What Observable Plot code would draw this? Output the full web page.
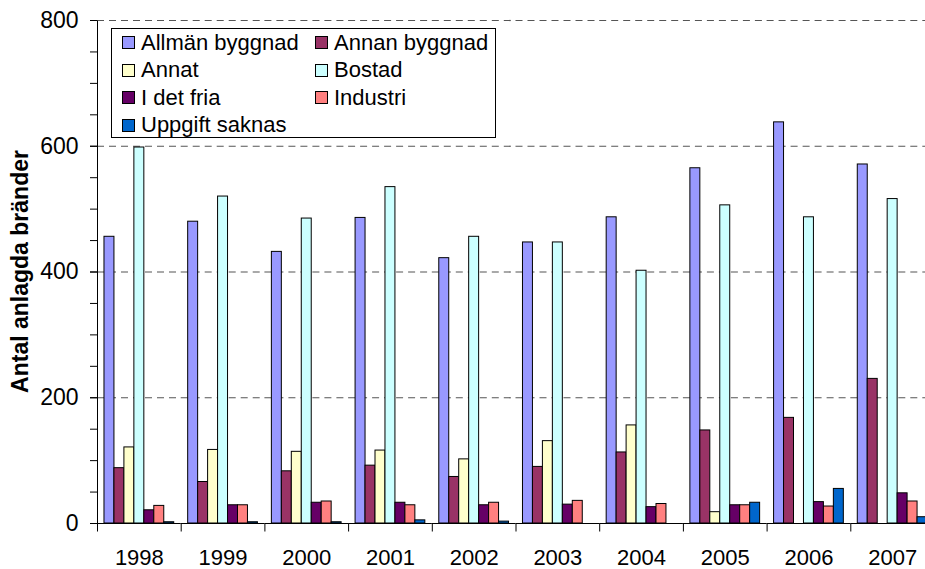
<!DOCTYPE html>
<html>
<head>
<meta charset="utf-8">
<script src="https://cdn.jsdelivr.net/npm/d3@7"></script>
<script src="https://cdn.jsdelivr.net/npm/@observablehq/plot@0.6"></script>
<style>
  html, body { margin: 0; padding: 0; overflow: hidden; background: #fff; }
  #wrap { position: relative; width: 925px; height: 569px; overflow: hidden;
          font-family: "Liberation Sans", Arial, sans-serif; color: #000; }
  #legend { position: absolute; left: 111px; top: 28px; width: 385px; height: 110px;
            box-sizing: border-box; border: 1px solid #000; background: #fff;
            padding: 0 0 0 10px; display: grid; grid-template-columns: 193px 1fr;
            grid-auto-rows: 27.5px; font-size: 22px; }
  .item { display: flex; align-items: center; white-space: nowrap; }
  .sw { width: 13px; height: 13px; box-sizing: border-box; border: 1px solid #000; margin-right: 6px; flex: none; }
</style>
</head>
<body>
<div id="wrap"></div>
<script>
const years = ["1998","1999","2000","2001","2002","2003","2004","2005","2006","2007"];
const series = ["Allmän byggnad","Annan byggnad","Annat","Bostad","I det fria","Industri","Uppgift saknas"];
const colors = ["#9999FF","#993366","#FFFFCC","#CCFFFF","#660066","#FF8080","#0066CC"];

const allmanByggnad = [456, 480, 432, 486, 422, 447, 487, 565, 638, 571];
const annanByggnad  = [88, 66, 83, 92, 74, 90, 113, 148, 168, 230];
const annat         = [121, 117, 114, 116, 102, 131, 156, 18, 0, 0];
const bostad        = [598, 520, 485, 535, 456, 447, 402, 506, 487, 516];
const iDetFria      = [21, 29, 33, 33, 29, 30, 26, 29, 34, 48];
const industri      = [28, 29, 35, 29, 33, 36, 31, 29, 27, 35];
const uppgiftSaknas = [2, 2, 2, 5, 3, 0, 0, 33, 55, 10];

const majorTicks = [0, 200, 400, 600, 800];
const gridTicks = [200, 400, 600, 800];
const minorTicks = [0,50,100,150,200,250,300,350,400,450,500,550,600,650,700,750,800];
const yTitle = "Antal anlagda bränder";

const seriesValues = [allmanByggnad, annanByggnad, annat, bostad, iDetFria, industri, uppgiftSaknas];
const rows = years.flatMap((yr, i) => seriesValues.map((vals, j) => ({year: yr, series: series[j], value: vals[i]})));

const chart = Plot.plot({
  width: 925, height: 569,
  marginLeft: 97, marginRight: -9, marginTop: 20, marginBottom: 46,
  style: {fontFamily: '"Liberation Sans", Arial, sans-serif', fontSize: "23px", color: "#000", background: "#fff"},
  fx: {domain: years, padding: 0, round: false, label: null},
  x: {domain: series, paddingInner: 0, paddingOuter: 0.7, round: false, axis: null},
  y: {domain: [0, 800], label: null},
  color: {domain: series, range: colors},
  marks: [
    Plot.ruleY(gridTicks, {stroke: "#555", strokeWidth: 1.2, strokeDasharray: "7,5"}),
    Plot.barY(rows, {fx: "year", x: "series", y: "value", fill: "series", stroke: "#000", strokeWidth: 1}),
    Plot.ruleY([0], {stroke: "#000"}),
    Plot.axisY(minorTicks, {tickSize: 7, tickFormat: () => "", stroke: "#000"}),
    Plot.axisY(majorTicks, {tickSize: 7, tickPadding: 12, fontSize: 23, stroke: "#000"}),
    Plot.axisFx({anchor: "bottom", tickSize: 0, tickPadding: 25.5, fontSize: 22, label: null})
  ]
});

document.getElementById("wrap").appendChild(chart);

// axis line and category boundary ticks from the plot's own scales
const svg = d3.select(chart);
const fx = chart.scale("fx"), y = chart.scale("y");
const y0 = y.apply(0), y1 = y.apply(800);
const xLeft = fx.apply(years[0]);
const g = svg.append("g").attr("stroke", "#000").attr("stroke-width", 1);
g.append("line").attr("x1", xLeft + 0.5).attr("x2", xLeft + 0.5).attr("y1", y0 + 0.5).attr("y2", y1 + 0.5);
const bounds = years.map(yr => fx.apply(yr)).concat([fx.apply(years[years.length - 1]) + fx.bandwidth]);
bounds.forEach(bx => {
  g.append("line").attr("x1", bx + 0.5).attr("x2", bx + 0.5).attr("y1", y0 + 0.5).attr("y2", y0 + 8.5);
});
svg.append("text")
  .attr("transform", `translate(28,${(y0 + y1) / 2}) rotate(-90)`)
  .attr("text-anchor", "middle")
  .attr("font-weight", "bold")
  .attr("font-size", 23)
  .attr("fill", "#000")
  .text(yTitle);

// legend
const color = chart.scale("color");
const legend = d3.select("#wrap").append("div").attr("id", "legend");
series.forEach(s => {
  const it = legend.append("div").attr("class", "item");
  it.append("div").attr("class", "sw").style("background", color.apply(s));
  it.append("span").text(s);
});
</script>
</body>
</html>
